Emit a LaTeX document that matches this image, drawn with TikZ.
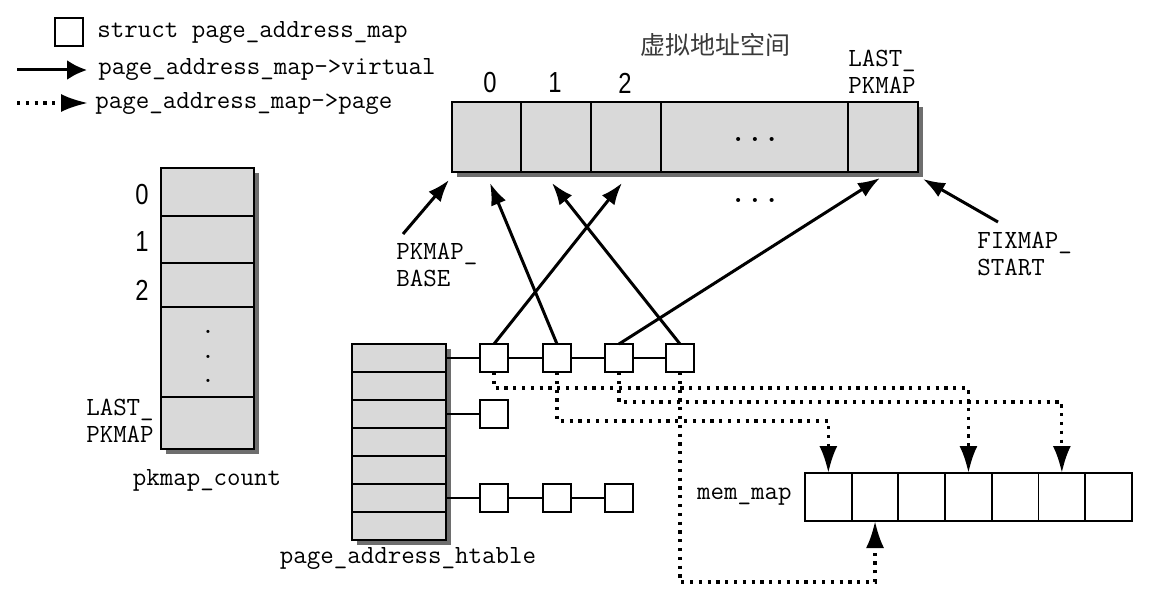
\documentclass[tikz,border=0pt]{standalone}
\usepackage{fontspec}
\setsansfont{Liberation Sans}
\newfontfamily\cjkfont{Noto Sans CJK SC}
\newfontfamily\digitfont[FakeStretch=0.82]{Liberation Sans}
\usetikzlibrary{arrows.meta,calc}
\definecolor{cellgray}{HTML}{D9D9D9}
\definecolor{shadowgray}{HTML}{6E6E6E}
\definecolor{titlegray}{HTML}{3A3A3A}
\begin{document}
\begin{tikzpicture}[x=0.5pt,y=-0.5pt,
  cell/.style={draw, fill=cellgray, line width=1.1pt, inner sep=0pt, outer sep=0pt},
  sbox/.style={draw, fill=white, line width=1.1pt, minimum width=14pt, minimum height=14pt, inner sep=0pt, outer sep=0pt},
  mcell/.style={draw, fill=white, line width=0.9pt, minimum width=23.36pt, minimum height=24pt, inner sep=0pt, outer sep=0pt},
  mono/.style={font=\ttfamily\fontsize{13.1}{13.6}\selectfont, inner sep=0pt},
  digit/.style={font=\digitfont\fontsize{14.5}{15}\selectfont, inner sep=0pt},
  dotsf/.style={font=\bfseries\fontsize{14}{14}\selectfont, inner sep=0pt},
  vdotsf/.style={font=\bfseries\fontsize{11}{11}\selectfont, inner sep=0pt},
  vptr/.style={line width=1.5pt, -{Latex[length=11pt,width=8pt]}},
  lptr/.style={line width=1.5pt, -{Latex[length=10pt,width=10pt]}},
  pptr/.style={line width=1.6pt, dash pattern=on 1.6pt off 2.8pt, -{Latex[length=13.5pt,width=9pt]}},
  link/.style={line width=1.2pt},
]
\useasboundingbox (0,0) rectangle (1152,604);

% ---------- legend ----------
\node[sbox] (lgbox) at (69,32) {};
\node[mono, anchor=west] (lgt1) at (97,33) {struct page\_address\_map};
\coordinate (la1) at (17,70);
\coordinate (la2) at (87,70);
\draw[lptr] (la1) -- (la2);
\node[mono, anchor=west] (lgt2) at (98,70) {page\_address\_map->virtual};
\coordinate (lb1) at (17,103);
\coordinate (lb2) at (88,103);
\draw[pptr] (lb1) -- (lb2);
\node[mono, anchor=west] (lgt3) at (95,103) {page\_address\_map->page};

% ---------- virtual address space ----------
\node[font=\cjkfont\fontsize{12.5}{14}\selectfont, text=titlegray, inner sep=0pt] (title) at (715,45) {虚拟地址空间};
\fill[shadowgray] (457,107) rectangle (923,177);
\node[cell, minimum width=34.5pt, minimum height=35pt] (c0) at (486.5,137) {};
\node[cell, minimum width=35pt, minimum height=35pt] (c1) at (556,137) {};
\node[cell, minimum width=35pt, minimum height=35pt] (c2) at (626,137) {};
\node[cell, minimum width=93.5pt, minimum height=35pt] (cd) at (754.5,137) {};
\node[cell, minimum width=35pt, minimum height=35pt] (cl) at (883,137) {};
\node[digit] (v0) at (490,83) {0};
\node[digit] (v1) at (555,83) {1};
\node[digit] (v2) at (625,83) {2};
\node[mono, align=left] (vlast) at (882,72) {LAST\_\\PKMAP};
\node[dotsf] (vdots) at (755,139) {.\hspace{4pt}.\hspace{4pt}.};
\node[dotsf] (vdots2) at (755,200) {.\hspace{4pt}.\hspace{4pt}.};

\node[mono, align=left, anchor=west] (pb) at (396,265) {PKMAP\_\\BASE};
\coordinate (pbt) at (403,234);
\draw[vptr] (pbt) -- ($(c0.south west)+(-3,8)$);
\node[mono, align=left, anchor=west] (fx) at (977,254) {FIXMAP\_\\START};
\coordinate (fxt) at (998,222);
\draw[vptr] (fxt) -- ($(cl.south east)+(5,7)$);

% ---------- pkmap_count ----------
\fill[shadowgray] (166,173) rectangle (259,454);
\node[cell, minimum width=46.5pt, minimum height=24pt] (p0) at (207.5,192) {};
\node[cell, minimum width=46.5pt, minimum height=23.5pt] (p1) at (207.5,239.5) {};
\node[cell, minimum width=46.5pt, minimum height=22pt] (p2) at (207.5,285) {};
\node[cell, minimum width=46.5pt, minimum height=45pt] (pd) at (207.5,352) {};
\node[cell, minimum width=46.5pt, minimum height=26pt] (pl) at (207.5,423) {};
\node[digit] (k0) at (142,195) {0};
\node[digit] (k1) at (142,242) {1};
\node[digit] (k2) at (142,290) {2};
\node[vdotsf] (pdot1) at (208,332) {.};
\node[vdotsf] (pdot2) at (208,357) {.};
\node[vdotsf] (pdot3) at (208,381) {.};
\node[mono, align=left] (klast) at (120,421) {LAST\_\\PKMAP};
\node[mono] (pkc) at (207,480) {pkmap\_count};

% ---------- page_address_htable ----------
\fill[shadowgray] (357,349) rectangle (451,545);
\foreach \i in {1,...,7} {
  \node[cell, minimum width=47pt, minimum height=14pt] (h\i) at (399,{358+28*(\i-1)}) {};
}
\node[mono] (hlabel) at (408,558) {page\_address\_htable};

\node[sbox] (b1) at (494,358) {};
\node[sbox] (b2) at (557,358) {};
\node[sbox] (b3) at (619,358) {};
\node[sbox] (b4) at (680,358) {};
\node[sbox] (r1) at (494,414) {};
\node[sbox] (s1) at (494,498) {};
\node[sbox] (s2) at (557,498) {};
\node[sbox] (s3) at (619,498) {};
\draw[link] (h1.east) -- (b1.west) (b1.east) -- (b2.west) (b2.east) -- (b3.west) (b3.east) -- (b4.west);
\draw[link] (h3.east) -- (r1.west);
\draw[link] (h6.east) -- (s1.west) (s1.east) -- (s2.west) (s2.east) -- (s3.west);

% ---------- mem_map ----------
\foreach \i in {1,...,7} {
  \node[mcell] (m\i) at ({828.35+46.7*(\i-1)},497) {};
}
\node[mono, anchor=east] (mlabel) at (792,497) {mem\_map};

% ---------- virtual pointers ----------
\draw[vptr] (b1.north) -- ($(c2.south)+(-4,11)$);
\draw[vptr] (b2.north) -- ($(c0.south)+(3.5,11)$);
\draw[vptr] (b3.north) -- ($(cl.south)+(-3,6)$);
\draw[vptr] (b4.north) -- ($(c1.south)+(-4,11)$);

% ---------- page pointers ----------
\draw[pptr] (b1.south) -- ++(0,16) -| (m4.north);
\draw[pptr] (b3.south) -- ++(0,30) -| (m6.north);
\draw[pptr] (b2.south) -- ++(0,49) -| (m1.north);
\draw[pptr] (b4.south) -- ++(0,210) -| (m2.south);
\end{tikzpicture}
\end{document}
